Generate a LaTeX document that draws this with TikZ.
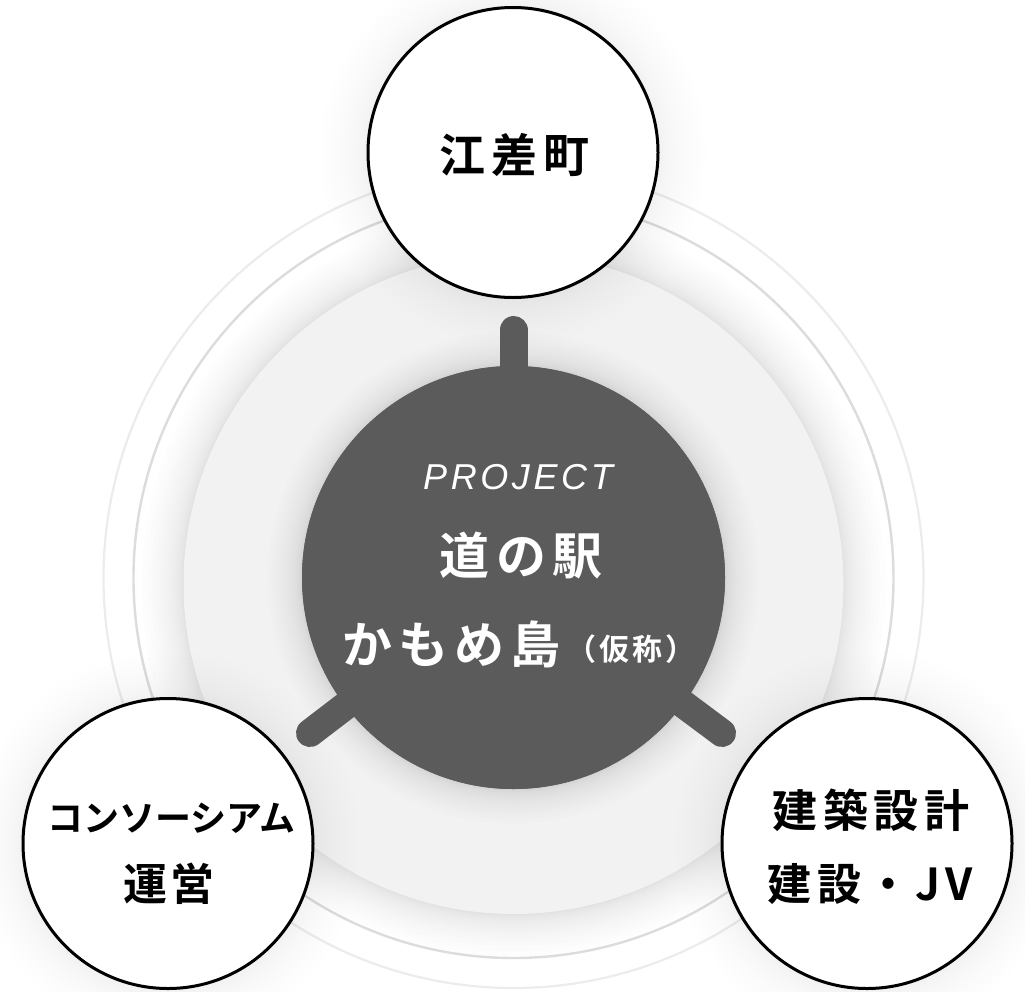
\documentclass[tikz,border=0pt]{standalone}
\usepackage{fontspec}
\newfontfamily\jpa{Noto Sans CJK JP Bold}
\newfontfamily\jpb[LetterSpace=13]{Noto Sans CJK JP Bold}
\newfontfamily\jpc[LetterSpace=6]{Noto Sans CJK JP Bold}
\newfontfamily\jpd[LetterSpace=12]{Noto Sans CJK JP Bold}
\newfontfamily\jpw[LetterSpace=13]{Noto Sans CJK JP Bold}
\newfontfamily\jpm[LetterSpace=12]{Noto Sans CJK JP Bold}
\newfontfamily\jps[LetterSpace=10]{Noto Sans CJK JP Bold}
\newfontfamily\lat[LetterSpace=10]{Liberation Sans}
\definecolor{dark}{HTML}{5B5B5B}
\definecolor{disk}{HTML}{F2F2F2}
\definecolor{ringa}{HTML}{DCDCDC}
\definecolor{ringb}{HTML}{ECECEC}
\tikzset{
  whitecirc/.style={circle,draw=black,line width=3pt,fill=white,minimum size=290pt,inner sep=0pt},
  hubdisk/.style={circle,fill=dark,minimum size=423pt,inner sep=0pt},
  blk/.style={text=black,inner sep=0pt,align=center},
  wht/.style={text=white,inner sep=0pt,align=center},
  bar/.style={draw=dark,line width=28pt,line cap=round},
}
\newcommand{\softshadow}[5]{% x, y, radius, spread, opacity
  \foreach \i in {1,...,16}{
    \fill[black,opacity=#5] (#1,#2) circle ({#3+\i*\i*#4/256});
  }
}
\begin{document}
\begin{tikzpicture}[x=1pt,y=-1pt]
\useasboundingbox (0,0) rectangle (1025,991);
\fill[white] (0,0) rectangle (1025,991);
% rings
\draw[ringb,line width=2.2pt] (513.5,578) circle (410);
\draw[ringa,line width=2.4pt] (513.5,578) circle (380);
% inner disk
\softshadow{513.5}{584}{330}{42}{0.0075}
\fill[disk] (513.5,584) circle (330);
% hub shadow
\softshadow{513.5}{577.5}{212}{34}{0.006}
% satellite shadows
\softshadow{513}{152.5}{145}{48}{0.0042}
\softshadow{168}{843.5}{145}{48}{0.0042}
\softshadow{867}{843.5}{145}{48}{0.0042}
% connectors
\node[hubdisk] (hub) at (513.5,577.5) {};
\coordinate (topend) at (513.5,330);
\coordinate (leftend) at (310,733);
\coordinate (rightend) at (722,733);
\draw[bar] (hub.center) -- (topend);
\draw[bar] (hub.center) -- (leftend);
\draw[bar] (hub.center) -- (rightend);
\node[hubdisk] (hubtop) at (hub.center) {};
% satellites
\node[whitecirc] (town) at (513,152.5) {};
\node[whitecirc] (cons) at (168,843.5) {};
\node[whitecirc] (arch) at (867,843.5) {};
% labels
\node[blk,font=\jpb\fontsize{46}{46}\selectfont] (t1) at (514.5,155) {江差町};
\node[blk,font=\jpa\fontsize{36}{36}\selectfont] (t2) at (171.5,818) {コンソーシアム};
\node[blk,font=\jpc\fontsize{44}{44}\selectfont] (t3) at (169,884) {運営};
\node[blk,font=\jpd\fontsize{45}{45}\selectfont] (t4) at (871,810) {建築設計};
\node[blk,font=\jpd\fontsize{44}{44}\selectfont] (t5) at (870.5,884) {建設・JV};
\node[wht,font=\lat\itshape\fontsize{36}{36}\selectfont] (p1) at (518,477) {PROJECT};
\node[wht,font=\jpw\fontsize{50}{50}\selectfont] (p2) at (521,556) {道の駅};
\node[wht,font=\jpm\fontsize{50}{50}\selectfont,anchor=west] (p3) at (342,644) {かもめ島};
\node[wht,font=\jps\fontsize{30}{30}\selectfont,anchor=west] (p4) at (566,649) {（仮称）};
\end{tikzpicture}
\end{document}
